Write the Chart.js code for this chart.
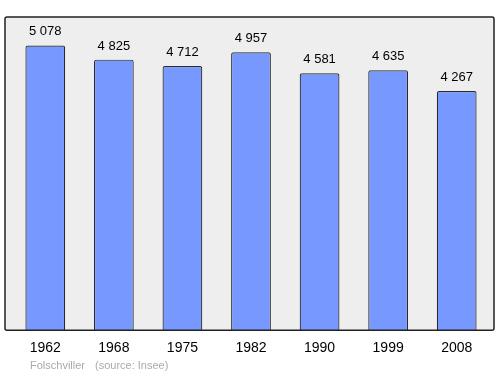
<!DOCTYPE html>
<html>
<head>
<meta charset="utf-8">
<script src="https://cdn.jsdelivr.net/npm/chart.js@4/dist/chart.umd.min.js"></script>
<style>
  html, body { margin: 0; padding: 0; background: #fff; }
  #wrap { width: 500px; height: 374px; position: relative; }
</style>
</head>
<body>
<div id="wrap"><canvas id="pop"></canvas></div>
<script>
// population data (Insee)
const years = ['1962', '1968', '1975', '1982', '1990', '1999', '2008'];
const population = [5078, 4825, 4712, 4957, 4581, 4635, 4267];
const townName = 'Folschviller';
const sourceText = '(source: Insee)';

const fmt = v => String(v).replace(/\B(?=(\d{3})+(?!\d))/g, ' ');

// gray panel + frame behind the bars, labels, footer
const panelPlugin = {
    id: 'panel',
    beforeDatasetsDraw(chart) {
        const { ctx, chartArea } = chart;
        const l = 5, r = 494, t = chartArea.top, b = chartArea.bottom;
        ctx.save();
        ctx.beginPath();
        ctx.roundRect(l, t, r - l, b - t, 2);
        ctx.fillStyle = '#eeeeee';
        ctx.fill();
        ctx.restore();
    },
    afterDatasetsDraw(chart) {
        const { ctx, chartArea } = chart;
        const l = 5, r = 494, t = chartArea.top, b = chartArea.bottom;
        ctx.save();
        ctx.beginPath();
        ctx.roundRect(l, t, r - l, b - t, 2);
        ctx.lineWidth = 1.5;
        ctx.strokeStyle = '#222';
        ctx.stroke();

        // value labels above bars
        ctx.font = '13px "Liberation Sans", Arial, sans-serif';
        ctx.fillStyle = '#000';
        ctx.textAlign = 'center';
        ctx.textBaseline = 'alphabetic';
        chart.getDatasetMeta(0).data.forEach((bar, i) => {
            ctx.fillText(fmt(population[i]), bar.x, bar.y - 10);
        });

        // footer
        ctx.font = '11px "Liberation Sans", Arial, sans-serif';
        ctx.fillStyle = '#aaaaaa';
        ctx.textAlign = 'left';
        ctx.fillText(townName, 30, 369);
        ctx.fillText(sourceText, 95, 369);
        ctx.restore();
    }
};

new Chart(document.getElementById('pop'), {
    type: 'bar',
    data: {
        labels: years,
        datasets: [{
            data: population,
            backgroundColor: '#7799ff',
            borderColor: '#2a2a2a',
            borderWidth: 1.2,
            borderRadius: 2,
            borderSkipped: 'bottom',
            barPercentage: 0.58,
            categoryPercentage: 1.0
        }]
    },
    options: {
        responsive: true,
        maintainAspectRatio: false,
        animation: false,
        layout: { padding: { left: 11, right: 9, top: 17, bottom: 7 } },
        plugins: { legend: { display: false }, tooltip: { enabled: false } },
        scales: {
            x: {
                grid: { display: false, drawTicks: false },
                border: { display: false },
                ticks: {
                    color: '#000',
                    padding: 10,
                    font: { size: 14, family: '"Liberation Sans", Arial, sans-serif' }
                }
            },
            y: {
                display: false,
                min: 0,
                max: Math.max(...population) * 1.1
            }
        }
    },
    plugins: [panelPlugin]
});
</script>
</body>
</html>
